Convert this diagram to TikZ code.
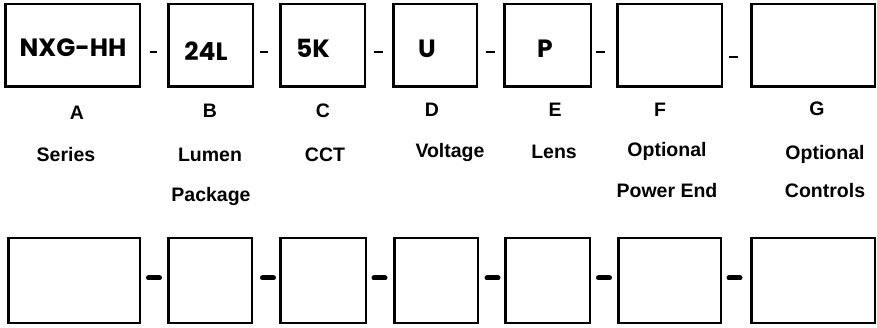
\documentclass[tikz,border=0pt]{standalone}
\usepackage{fontspec}
\setmainfont{Liberation Sans}
\newfontfamily\codefont{Poppins}
\usetikzlibrary{calc}

\begin{document}
\begin{tikzpicture}[x=1pt,y=-1pt,
    box/.style={draw,line width=2.6pt,minimum height=82.6pt,inner sep=0pt},
    lowbox/.style={draw,line width=2.6pt,minimum height=84.6pt,inner sep=0pt},
    code/.style={anchor=base,font=\codefont\bfseries\fontsize{25}{25}\selectfont},
    lbl/.style={anchor=base,font=\bfseries\fontsize{19.5}{20}\selectfont},
    bar/.style={line width=2.8pt},
    lowbar/.style={line width=5pt,line cap=round}]
  \useasboundingbox (0,0) rectangle (877,328);
  % top row
  \node[box,minimum width=134.6pt] (a) at (72.5,45.5) {};
  \node[box,minimum width=84.6pt] (b) at (210.5,45.5) {};
  \node[box,minimum width=84.6pt] (c) at (322.5,45.5) {};
  \node[box,minimum width=83.6pt] (d) at (435,45.5) {};
  \node[box,minimum width=86.6pt] (e) at (547.5,45.5) {};
  \node[box,minimum width=104.6pt] (f) at (669.5,45.5) {};
  \node[box,minimum width=123.6pt] (g) at (813,45.5) {};
  \node[code] (codeA) at (73,57) {NXG-HH};
  \node[code] (codeB) at (206,61) {24L};
  \node[code] (codeC) at (313,58) {5K};
  \node[code] (codeD) at (427,58) {U};
  \node[code] (codeE) at (545,58) {P};
  \draw[bar] ($(a.east)!.5!(b.west)+(-4.5,6.5)$) -- ++(7,0);
  \draw[bar] ($(b.east)!.5!(c.west)+(-7,6.5)$) -- ++(8,0);
  \draw[bar] ($(c.east)!.5!(d.west)+(-5,6.5)$) -- ++(9,0);
  \draw[bar] ($(d.east)!.5!(e.west)+(-5,6.5)$) -- ++(9,0);
  \draw[bar] ($(e.east)!.5!(f.west)+(-8,6.5)$) -- ++(9,0);
  \draw[bar] ($(f.east)!.5!(g.west)+(-8,11.5)$) -- ++(9,0);
  % letters and names
  \node[lbl] (letA) at (77,120) {A};
  \node[lbl] (letB) at (210,118) {B};
  \node[lbl] (letC) at (323,118) {C};
  \node[lbl] (letD) at (432,117) {D};
  \node[lbl] (letE) at (555,117) {E};
  \node[lbl] (letF) at (660,117) {F};
  \node[lbl] (letG) at (817,116) {G};
  \node[lbl] (nameA) at (66,162) {Series};
  \node[lbl] (nameB) at (210,162) {Lumen};
  \node[lbl] (nameBb) at (211,202) {Package};
  \node[lbl] (nameC) at (325,162) {CCT};
  \node[lbl] (nameD) at (450,158) {Voltage};
  \node[lbl] (nameE) at (554,159) {Lens};
  \node[lbl] (nameF) at (667,157) {Optional};
  \node[lbl] (nameFb) at (667,198) {Power End};
  \node[lbl] (nameG) at (825,160) {Optional};
  \node[lbl] (nameGb) at (825,198) {Controls};
  % bottom row
  \node[lowbox,minimum width=131.6pt] (p) at (74,280.5) {};
  \node[lowbox,minimum width=83.6pt] (q) at (210,280.5) {};
  \node[lowbox,minimum width=85.6pt] (r) at (323,280.5) {};
  \node[lowbox,minimum width=83.6pt] (s) at (436,280.5) {};
  \node[lowbox,minimum width=84.6pt] (t) at (547.5,280.5) {};
  \node[lowbox,minimum width=102.6pt] (u) at (669.5,280.5) {};
  \node[lowbox,minimum width=123.6pt] (v) at (813,280.5) {};
  \draw[lowbar] ($(p.east)!.5!(q.west)+(-5.5,-2.5)$) -- ++(11,0);
  \draw[lowbar] ($(q.east)!.5!(r.west)+(-3.5,-2.5)$) -- ++(11,0);
  \draw[lowbar] ($(r.east)!.5!(s.west)+(-6,-2.5)$) -- ++(11,0);
  \draw[lowbar] ($(s.east)!.5!(t.west)+(-4.5,-2.5)$) -- ++(11,0);
  \draw[lowbar] ($(t.east)!.5!(u.west)+(-5.5,-2.5)$) -- ++(11,0);
  \draw[lowbar] ($(u.east)!.5!(v.west)+(-7,-2.5)$) -- ++(11,0);
\end{tikzpicture}
\end{document}
